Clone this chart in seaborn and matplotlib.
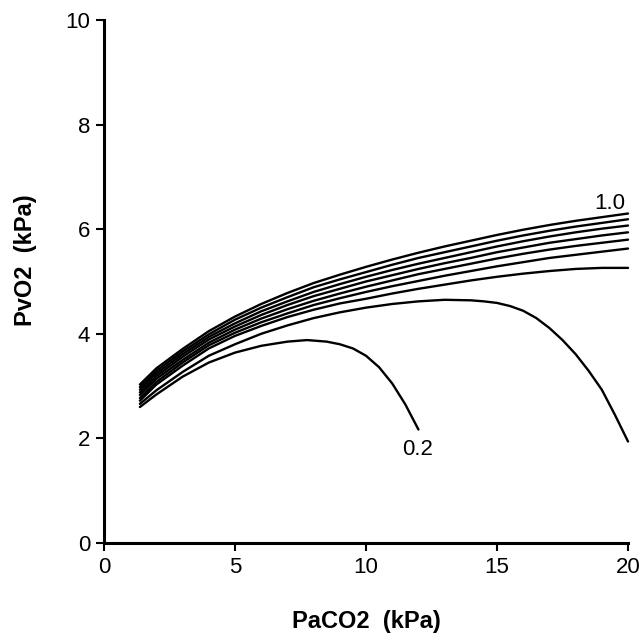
import matplotlib
matplotlib.use("Agg")
import matplotlib.pyplot as plt
import seaborn as sns
import pandas as pd

# FiO2 curves: PvO2 (kPa) against PaCO2 (kPa)
x_grid = [1.37, 2, 3, 4, 5, 6, 7, 8, 9, 10, 11, 12, 13, 14, 15, 16, 17, 18, 19, 20]

pvo2_10 = [3.03, 3.34, 3.71, 4.05, 4.33, 4.57, 4.78, 4.97, 5.13, 5.28,
           5.42, 5.55, 5.67, 5.78, 5.89, 5.99, 6.08, 6.16, 6.23, 6.30]
pvo2_09 = [2.98, 3.29, 3.66, 3.99, 4.27, 4.50, 4.70, 4.89, 5.04, 5.18,
           5.32, 5.45, 5.56, 5.67, 5.78, 5.88, 5.97, 6.05, 6.12, 6.19]
pvo2_08 = [2.93, 3.24, 3.61, 3.94, 4.20, 4.43, 4.62, 4.80, 4.95, 5.09,
           5.22, 5.34, 5.45, 5.56, 5.67, 5.77, 5.86, 5.94, 6.01, 6.07]
pvo2_07 = [2.88, 3.19, 3.56, 3.89, 4.14, 4.36, 4.55, 4.72, 4.86, 5.00,
           5.12, 5.24, 5.35, 5.45, 5.56, 5.65, 5.74, 5.81, 5.88, 5.94]
pvo2_06 = [2.83, 3.14, 3.50, 3.83, 4.08, 4.29, 4.47, 4.63, 4.77, 4.90,
           5.02, 5.14, 5.24, 5.34, 5.44, 5.53, 5.61, 5.68, 5.74, 5.80]
pvo2_05 = [2.77, 3.08, 3.45, 3.78, 4.02, 4.22, 4.39, 4.55, 4.68, 4.80,
           4.91, 5.01, 5.11, 5.20, 5.29, 5.37, 5.45, 5.51, 5.57, 5.63]
pvo2_04 = [2.72, 3.03, 3.39, 3.72, 3.96, 4.15, 4.32, 4.46, 4.58, 4.67,
           4.77, 4.86, 4.94, 5.02, 5.09, 5.15, 5.20, 5.24, 5.26, 5.26]

x_03 = [1.37, 2, 3, 4, 5, 6, 7, 8, 9, 10, 11, 12, 13, 14, 14.5, 15, 15.5,
        16, 16.5, 17, 17.5, 18, 18.5, 19, 19.5, 20]
pvo2_03 = [2.66, 2.92, 3.27, 3.58, 3.80, 4.00, 4.16, 4.30, 4.41, 4.50,
           4.57, 4.62, 4.65, 4.64, 4.62, 4.59, 4.53, 4.44, 4.30, 4.11,
           3.88, 3.61, 3.29, 2.93, 2.45, 1.94]

x_02 = [1.37, 2, 3, 4, 5, 6, 7, 7.75, 8.5, 9, 9.5, 10, 10.5, 11, 11.5, 12]
pvo2_02 = [2.60, 2.84, 3.18, 3.45, 3.64, 3.77, 3.85, 3.88, 3.85, 3.80,
           3.72, 3.58, 3.36, 3.05, 2.65, 2.17]

curves = {
    '1.0': (x_grid, pvo2_10), '0.9': (x_grid, pvo2_09), '0.8': (x_grid, pvo2_08),
    '0.7': (x_grid, pvo2_07), '0.6': (x_grid, pvo2_06), '0.5': (x_grid, pvo2_05),
    '0.4': (x_grid, pvo2_04), '0.3': (x_03, pvo2_03), '0.2': (x_02, pvo2_02),
}

frames = []
for fio2, (xs, ys) in curves.items():
    frames.append(pd.DataFrame({'PaCO2': xs, 'PvO2': ys, 'FiO2': fio2}))
df = pd.concat(frames, ignore_index=True)

sns.set_style("ticks")
plt.rcParams['font.family'] = ['Liberation Sans', 'DejaVu Sans']
plt.rcParams['text.color'] = 'black'
plt.rcParams['axes.labelcolor'] = 'black'

fig = plt.figure(figsize=(6.44, 6.37), dpi=100)
ax = fig.add_axes([0.1615, 0.1476, 0.8137, 0.821])

for fio2 in curves:
    sub = df[df['FiO2'] == fio2]
    sns.lineplot(data=sub, x='PaCO2', y='PvO2', color='black', lw=1.7,
                 sort=False, estimator=None, ax=ax, clip_on=False)

ax.set_xlim(0, 20)
ax.set_ylim(0, 10)
ax.set_xticks([0, 5, 10, 15, 20])
ax.set_yticks([0, 2, 4, 6, 8, 10])
sns.despine(ax=ax)
for side in ['left', 'bottom']:
    ax.spines[side].set_linewidth(2.2)
    ax.spines[side].set_color('black')
ax.tick_params(axis='both', direction='out', length=6, width=1.5,
               colors='black', labelcolor='black', labelsize=16, pad=4)

ax.set_xlabel('PaCO2  (kPa)', fontsize=17, fontweight='bold', color='black')
ax.set_ylabel('PvO2  (kPa)', fontsize=17, fontweight='bold', color='black')
ax.xaxis.set_label_coords(0.5, -0.128)
ax.yaxis.set_label_coords(-0.128, 0.54)

ax.text(19.3, 6.5, '1.0', fontsize=16, ha='center', va='center', color='black')
ax.text(11.95, 1.79, '0.2', fontsize=16, ha='center', va='center', color='black')

fig.savefig('out.png', dpi=100)
